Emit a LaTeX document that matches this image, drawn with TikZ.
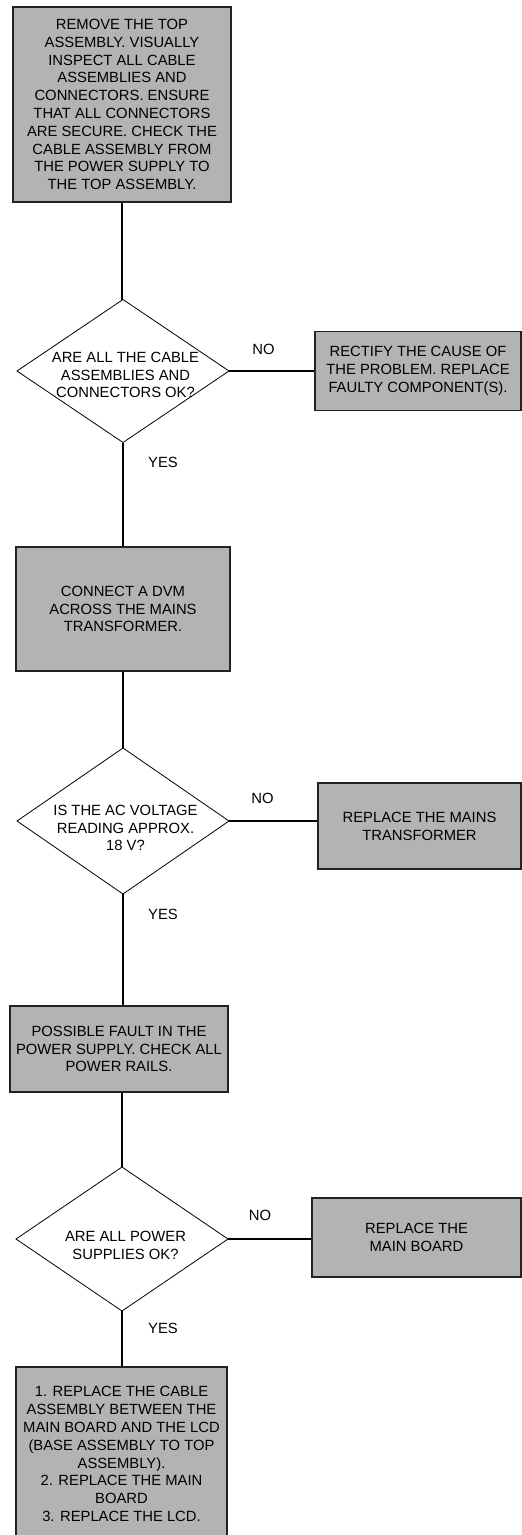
\documentclass[tikz,border=0pt]{standalone}
\usepackage{fontspec}
\setmainfont{Liberation Sans}
\usetikzlibrary{shapes.geometric}
\definecolor{boxgray}{RGB}{179,179,179}
\definecolor{edgegray}{RGB}{35,35,35}
\begin{document}
\begin{tikzpicture}[x=1pt,y=-1pt,
  txt/.style={font=\fontsize{14.8}{17.8}\selectfont, align=center, inner sep=0pt},
  proc/.style={txt, draw=edgegray, line width=1.2pt, fill=boxgray},
  dia/.style={diamond, draw=black, line width=0.8pt, inner sep=0pt, outer sep=0pt},
  conn/.style={draw=black, line width=2pt},
  lbl/.style={font=\fontsize{14.8}{17.8}\selectfont, inner sep=0pt}]
\useasboundingbox (0,0) rectangle (522,1535);

% process boxes
\node[proc, minimum width=218pt, minimum height=195pt] (b1) at (122,104.5)
  {REMOVE THE TOP\\ASSEMBLY. VISUALLY\\INSPECT ALL CABLE\\ASSEMBLIES AND\\CONNECTORS. ENSURE\\THAT ALL CONNECTORS\\ARE SECURE. CHECK THE\\CABLE ASSEMBLY FROM\\THE POWER SUPPLY TO\\THE TOP ASSEMBLY.};
\node[proc, minimum width=206pt, minimum height=79pt] (r1) at (418,371)
  {RECTIFY THE CAUSE OF\\THE PROBLEM. REPLACE\\FAULTY COMPONENT(S).};
\node[proc, minimum width=214pt, minimum height=124pt] (b2) at (123,609)
  {CONNECT A DVM\\ACROSS THE MAINS\\TRANSFORMER.};
\node[proc, minimum width=203pt, minimum height=86pt] (r2) at (419.5,826)
  {REPLACE THE MAINS\\TRANSFORMER};
\node[proc, minimum width=218pt, minimum height=86pt] (b3) at (119,1049)
  {POSSIBLE FAULT IN THE\\POWER SUPPLY. CHECK ALL\\POWER RAILS.};
\node[proc, minimum width=209pt, minimum height=79pt] (r3) at (416.5,1237.5)
  {REPLACE THE\\MAIN BOARD};
\node[proc, minimum width=211pt, minimum height=174pt] (b4) at (121.5,1454)
  {1. REPLACE THE CABLE\\ASSEMBLY BETWEEN THE\\MAIN BOARD AND THE LCD\\(BASE ASSEMBLY TO TOP\\ASSEMBLY).\\2. REPLACE THE MAIN\\BOARD\\3. REPLACE THE LCD.};

% decision diamonds
\node[dia, minimum width=212pt, minimum height=143pt] (d1) at (123,371) {};
\node[txt] (d1t) at (125.5,375) {ARE ALL THE CABLE\\ASSEMBLIES AND\\CONNECTORS OK?};
\node[dia, minimum width=212pt, minimum height=146pt] (d2) at (123,821) {};
\node[txt] (d2t) at (125.5,828) {IS THE AC VOLTAGE\\READING APPROX.\\18 V?};
\node[dia, minimum width=212pt, minimum height=144pt] (d3) at (122,1239) {};
\node[txt] (d3t) at (125.5,1245) {ARE ALL POWER\\SUPPLIES OK?};

% connectors
\draw[conn] (b1.south) -- (b1.south |- d1.north);
\draw[conn] (d1.east) -- (d1.east -| r1.west);
\draw[conn] (d1.south) -- (d1.south |- b2.north);
\draw[conn] (b2.south -| d2.north) -- (d2.north);
\draw[conn] (d2.east) -- (d2.east -| r2.west);
\draw[conn] (d2.south) -- (d2.south |- b3.north);
\draw[conn, line width=2.6pt] (b3.south -| d3.north) -- (d3.north);
\draw[conn] (d3.east) -- (d3.east -| r3.west);
\draw[conn] (d3.south) -- (d3.south |- b4.north);

% labels
\node[lbl] (no1) at (263.5,349) {NO};
\node[lbl] (yes1) at (163,462) {YES};
\node[lbl] (no2) at (262.5,798) {NO};
\node[lbl] (yes2) at (163,914) {YES};
\node[lbl] (no3) at (260,1215) {NO};
\node[lbl] (yes3) at (163,1328) {YES};
\end{tikzpicture}
\end{document}
